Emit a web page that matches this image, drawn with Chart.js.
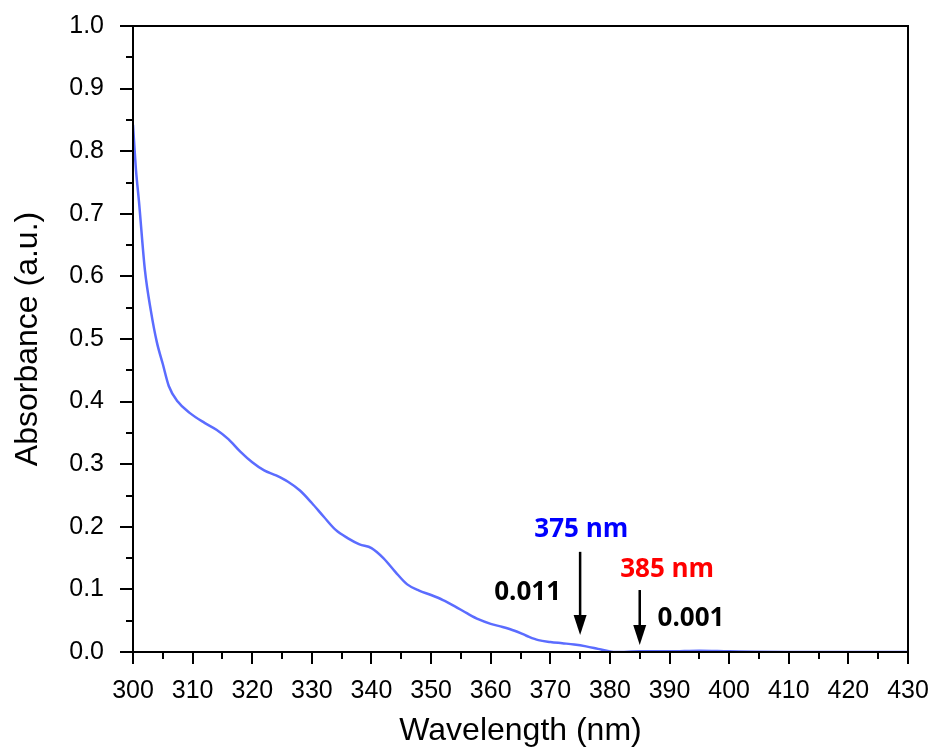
<!DOCTYPE html>
<html>
<head>
<meta charset="utf-8">
<script src="https://cdn.jsdelivr.net/npm/chart.js@4/dist/chart.umd.min.js"></script>
<style>
html,body{margin:0;padding:0;background:#fff;}
#wrap{width:933px;height:750px;position:relative;}
</style>
</head>
<body>
<div id="wrap"><canvas id="c" width="933" height="750"></canvas></div>
<script>
const wavelengths = [300, 300.5, 301, 302, 303, 304, 305, 306, 307.5, 309.5, 312, 314, 316, 318, 320, 322, 324, 326, 328, 330, 332, 334, 336, 338, 340, 342, 344, 346, 348, 350, 352, 354, 356, 358, 360, 362, 364, 366, 368, 370, 372, 374, 376, 378, 380, 381, 385, 390, 395, 400, 410, 420, 430];
const absorbance = [0.842, 0.77, 0.72, 0.61, 0.545, 0.495, 0.46, 0.425, 0.40, 0.382, 0.366, 0.355, 0.34, 0.32, 0.303, 0.29, 0.282, 0.272, 0.258, 0.238, 0.216, 0.195, 0.182, 0.172, 0.166, 0.15, 0.128, 0.108, 0.098, 0.091, 0.083, 0.073, 0.062, 0.052, 0.045, 0.04, 0.034, 0.026, 0.019, 0.016, 0.014, 0.012, 0.009, 0.005, 0.001, 0.0, 0.001, 0.001, 0.002, 0.001, 0.0, 0.0, 0.0];
const xTickValues = [300, 310, 320, 330, 340, 350, 360, 370, 380, 390, 400, 410, 420, 430];
const yTickValues = [0.0, 0.1, 0.2, 0.3, 0.4, 0.5, 0.6, 0.7, 0.8, 0.9, 1.0];
// arrows: wavelength, top value, tip value
const arrowX = [375, 385];
const arrowTop = [0.160, 0.099];
const arrowTip = [0.027, 0.011];
// labels: text, x (nm), y (abs), color
const labelText = ['375 nm', '385 nm', '0.011', '0.001'];
const labelX = [375.2, 389.6, 366.2, 393.6];
const labelY = [0.195, 0.131, 0.095, 0.054];
const labelColor = ['#0000ff', '#ff0000', '#000000', '#000000'];

const points = wavelengths.map((w, i) => ({x: w, y: absorbance[i]}));

const decor = {
  id: 'decor',
  afterDraw(chart) {
    const ctx = chart.ctx;
    const xs = chart.scales.x, ys = chart.scales.y;
    const a = chart.chartArea;
    ctx.save();
    ctx.strokeStyle = '#000';
    ctx.lineWidth = 2;
    ctx.beginPath();
    ctx.rect(a.left, a.top, a.right - a.left, a.bottom - a.top);
    ctx.stroke();
    ctx.beginPath();
    for (let v = 300; v <= 430; v += 5) {
      const px = Math.round(xs.getPixelForValue(v));
      const len = (v % 10 === 0) ? 12 : 7;
      ctx.moveTo(px, a.bottom); ctx.lineTo(px, a.bottom + len);
    }
    for (let i = 0; i <= 20; i++) {
      const v = i * 0.05;
      const py = Math.round(ys.getPixelForValue(v));
      const len = (i % 2 === 0) ? 13 : 7;
      ctx.moveTo(a.left, py); ctx.lineTo(a.left - len, py);
    }
    ctx.stroke();
    // arrows
    for (let i = 0; i < arrowX.length; i++) {
      const px = xs.getPixelForValue(arrowX[i]);
      const pt = ys.getPixelForValue(arrowTop[i]);
      const pp = ys.getPixelForValue(arrowTip[i]);
      ctx.strokeStyle = '#000'; ctx.fillStyle = '#000';
      ctx.lineWidth = 2.5;
      ctx.beginPath(); ctx.moveTo(px, pt); ctx.lineTo(px, pp - 12); ctx.stroke();
      ctx.beginPath(); ctx.moveTo(px - 6.5, pp - 20); ctx.lineTo(px + 6.5, pp - 20); ctx.lineTo(px, pp); ctx.closePath(); ctx.fill();
    }
    // labels
    ctx.font = 'bold 26px "Open Sans", sans-serif';
    ctx.textAlign = 'center'; ctx.textBaseline = 'middle';
    for (let i = 0; i < labelText.length; i++) {
      ctx.fillStyle = labelColor[i];
      ctx.fillText(labelText[i], xs.getPixelForValue(labelX[i]), ys.getPixelForValue(labelY[i]));
    }
    ctx.restore();
  }
};

new Chart(document.getElementById('c'), {
  type: 'line',
  data: {
    datasets: [{
      data: points,
      borderColor: '#5b6cff',
      borderWidth: 2.5,
      pointRadius: 0,
      fill: false,
      cubicInterpolationMode: 'monotone'
    }]
  },
  options: {
    responsive: false,
    animation: false,
    devicePixelRatio: 1,
    layout: {padding: {left: 0, top: 26, right: 25, bottom: 0}},
    plugins: {legend: {display: false}, tooltip: {enabled: false}},
    scales: {
      x: {
        type: 'linear', min: 300, max: 430,
        afterBuildTicks: (s) => { s.ticks = xTickValues.map(v => ({value: v})); },
        afterFit: (s) => { s.height = 98; s.paddingLeft = 0; s.paddingRight = 0; },
        grid: {display: false},
        border: {display: false},
        ticks: {color: '#000', padding: 16, font: {family: 'Liberation Sans, Arial, sans-serif', size: 25}, maxRotation: 0, autoSkip: false, callback: (v) => String(v)},
        title: {display: true, text: 'Wavelength (nm)', color: '#000', font: {family: 'Liberation Sans, Arial, sans-serif', size: 32}, padding: {top: 0, bottom: 0}}
      },
      y: {
        type: 'linear', min: 0, max: 1,
        afterBuildTicks: (s) => { s.ticks = yTickValues.map(v => ({value: v})); },
        afterFit: (s) => { s.width = 133; s.paddingTop = 0; s.paddingBottom = 0; },
        grid: {display: false},
        border: {display: false},
        ticks: {color: '#000', padding: 21, font: {family: 'Liberation Sans, Arial, sans-serif', size: 25}, autoSkip: false, callback: (v) => Number(v).toFixed(1)},
        title: {display: true, text: 'Absorbance (a.u.)', color: '#000', font: {family: 'Liberation Sans, Arial, sans-serif', size: 32}, padding: {top: 9, bottom: 0}}
      }
    }
  },
  plugins: [decor]
});
</script>
</body>
</html>
